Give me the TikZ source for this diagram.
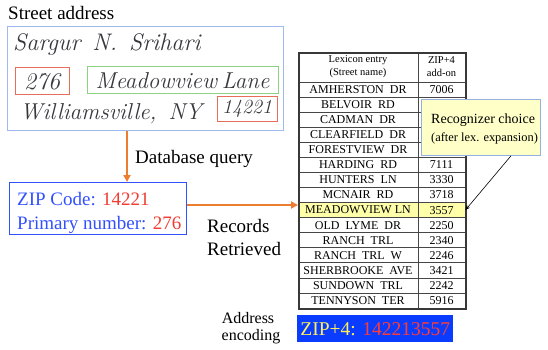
\documentclass[tikz,border=0pt]{standalone}
\usepackage{fontspec}
\setmainfont{Liberation Serif}
\newfontfamily\handfont{Latin Modern Roman}
\usetikzlibrary{arrows.meta}

\definecolor{flowor}{RGB}{237,125,49}
\definecolor{zipblue}{RGB}{51,80,255}
\definecolor{zipred}{RGB}{240,60,50}
\definecolor{addrframe}{RGB}{160,185,240}
\definecolor{penink}{RGB}{55,55,60}
\definecolor{markred}{RGB}{230,110,90}
\definecolor{markgreen}{RGB}{140,210,130}
\definecolor{gridline}{RGB}{70,70,70}
\definecolor{hilite}{RGB}{255,255,170}
\definecolor{notefill}{RGB}{255,255,200}
\definecolor{noteframe}{RGB}{150,175,225}
\definecolor{codefill}{RGB}{10,60,255}
\definecolor{codeyellow}{RGB}{255,240,90}
\definecolor{codered}{RGB}{255,60,50}

\newcommand\fs[2]{\fontsize{#1}{#2}\selectfont}

\tikzset{
  label19/.style={font=\fs{19}{23}, inner sep=0pt},
  hand/.style={font=\handfont\itshape\fs{#1}{26}, text=penink, inner sep=0pt},
  hand/.default=24,
  markbox/.style={draw=#1, line width=1pt, inner sep=0pt},
  flow/.style={draw=flowor, line width=2pt, -{Triangle[length=7pt,width=7pt]}},
  cell/.style={draw=gridline, line width=0.7pt, inner sep=0pt, font=\fs{12}{14}},
}

\begin{document}
\begin{tikzpicture}[x=1pt,y=-1pt]
\useasboundingbox (0,0) rectangle (548,350);

% scanned address block
\node[label19, anchor=base west] (title) at (8,20) {Street address};
\node[draw=addrframe, line width=1.2pt, minimum width=276pt, minimum height=104pt,
      anchor=north west, inner sep=0pt] (addr) at (7,26) {};
\node[hand=24, anchor=west] (name) at (13,45) {Sargur\hspace{12pt}N.\hspace{12pt}Srihari};
\node[markbox=markred, minimum width=54pt, minimum height=27pt] (num) at (42,81.5) {};
\node[hand=24] (numtext) at (num) {276};
\node[markbox=markgreen, minimum width=191pt, minimum height=27pt] (street) at (182.5,80.5) {};
\node[hand=23] (streettext) at (street) {Meadowview\hspace{5pt}Lane};
\node[hand=23, anchor=west] (city) at (20,114) {Williamsville,\hspace{12pt}NY};
\node[markbox=markred, minimum width=60pt, minimum height=24pt] (zipcode) at (247,109) {};
\node[hand=20] (ziptext) at (zipcode) {14221};

% query result
\node[label19, anchor=base west] (dbq) at (135,163) {Database query};
\node[draw=zipblue, line width=1.2pt, minimum width=177pt, minimum height=52pt,
      anchor=north west, inner sep=0pt] (zip) at (9,182) {};
\node[label19, anchor=base west] (zipline) at (17,205)
     {\textcolor{zipblue}{ZIP Code:} \textcolor{zipred}{14221}};
\node[label19, anchor=base west] (primline) at (17,229)
     {\textcolor{zipblue}{Primary number:} \textcolor{zipred}{276}};
\coordinate (qx) at (127,0);
\draw[flow] (addr.south -| qx) -- (zip.north -| qx);

\node[label19, anchor=base west] (rec1) at (207,232) {Records};
\node[label19, anchor=base west] (rec2) at (207,255) {Retrieved};

% lexicon table
\node[cell, minimum width=120pt, minimum height=30pt, font=\fs{10.5}{13}, align=center]
     (hname) at (358,67) {Lexicon entry\\(Street name)};
\node[cell, minimum width=47pt, minimum height=30pt, font=\fs{10.5}{13}, align=center]
     (hzip) at (441.5,67) {ZIP+4\\add-on};
\fill[hilite] (298,{82+15.07*8}) rectangle (465,{82+15.07*9});
\foreach \n/\z [count=\i] in {AMHERSTON\ \ DR/7006, BELVOIR\ \ RD/, CADMAN\ \ DR/,
    CLEARFIELD\ \ DR/, FORESTVIEW\ \ DR/, HARDING\ \ RD/7111, HUNTERS\ \ LN/3330,
    MCNAIR\ \ RD/3718, MEADOWVIEW LN/3557, OLD\ \ LYME\ \ DR/2250, RANCH\ \ TRL/2340,
    RANCH\ \ TRL\ \ W/2246, SHERBROOKE\ \ AVE/3421, SUNDOWN\ \ TRL/2242, TENNYSON\ \ TER/5916}{
  \node[cell, minimum width=120pt, minimum height=15.07pt] (n\i) at (358,{82+15.07*(\i-0.5)}) {\n};
  \node[cell, minimum width=47pt, minimum height=15.07pt] (z\i) at (441.5,{82+15.07*(\i-0.5)}) {\z};
}
\node[draw=gridline!80!black, line width=1.8pt, inner sep=0pt, minimum width=167pt,
      minimum height=256pt, anchor=north west] (tbl) at (298,52) {};
\draw[flow] (zip.east |- 0,205) -- (tbl.west |- 0,205);

% recognizer note
\node[draw=noteframe, fill=notefill, line width=0.8pt, minimum width=119pt, minimum height=56pt,
      anchor=north west, inner sep=0pt] (note) at (421,99) {};
\node[font=\fs{14}{16}, inner sep=0pt, anchor=base west] (note1) at (431,123) {Recognizer choice};
\node[font=\fs{12.4}{14}, inner sep=0pt, anchor=base west] (note2) at (431,141) {(after lex. expansion)};
\coordinate (nx) at (511,0);
\draw[black, line width=0.6pt, -{Stealth[length=5pt,width=4pt]}] (note.south -| nx) -- (z9.east);

% final code
\node[font=\fs{16}{17}, inner sep=0pt, anchor=base] (enc1) at (248,323) {Address};
\node[font=\fs{16}{17}, inner sep=0pt, anchor=base] (enc2) at (251,340) {encoding};
\node[fill=codefill, minimum width=156pt, minimum height=27pt, inner sep=0pt, font=\fs{19.5}{22},
      anchor=north west] (code) at (297,315)
     {\textcolor{codeyellow}{ZIP+4:} \textcolor{codered}{142213557}};
\end{tikzpicture}
\end{document}
